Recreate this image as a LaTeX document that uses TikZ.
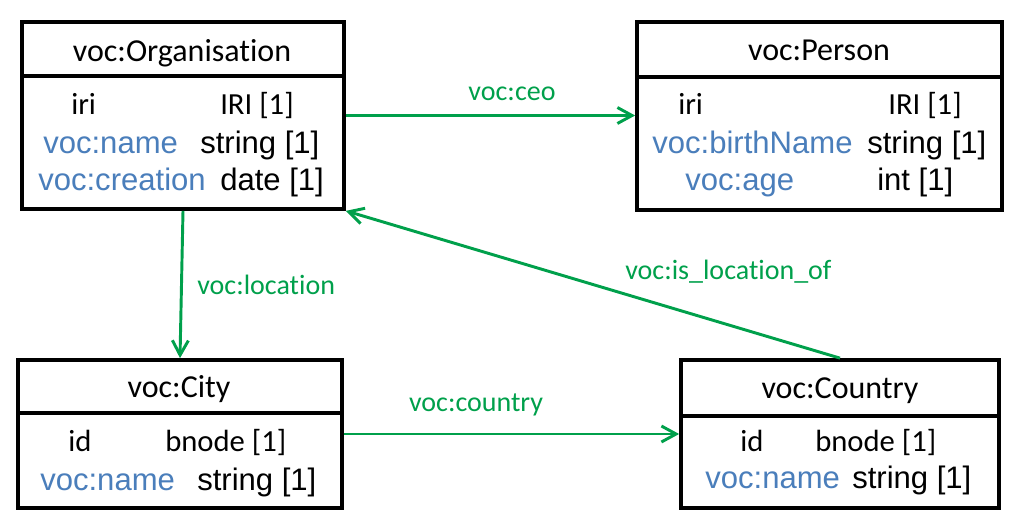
\documentclass[tikz,border=0pt]{standalone}
\usepackage{fontspec}
\newfontfamily\calfont[Ligatures=NoCommon]{Carlito}
\newfontfamily\arifont{Liberation Sans}
\usetikzlibrary{arrows.meta,calc}
\definecolor{edgegreen}{RGB}{0,160,75}
\definecolor{attblue}{RGB}{74,126,187}
\tikzset{
  box/.style={draw=black, line width=2.8pt, rectangle, inner sep=0pt, fill=white},
  divider/.style={draw=black, line width=2.4pt},
  ttl/.style={font=\calfont\fontsize{24}{28}\selectfont, anchor=base, inner sep=0pt},
  calt/.style={font=\calfont\fontsize{23}{27}\selectfont, anchor=base west, inner sep=0pt},
  prop/.style={font=\arifont\fontsize{23.3}{27}\selectfont, text=attblue, anchor=base west, inner sep=0pt},
  typ/.style={font=\arifont\fontsize{23.3}{27}\selectfont, anchor=base west, inner sep=0pt},
  elabel/.style={font=\calfont\fontsize{21}{25}\selectfont, text=edgegreen, inner sep=0pt},
  rel/.style={draw=edgegreen, line width=2.2pt, -{Straight Barb[length=11pt,width=12pt,line width=2.2pt]}},
}
\begin{document}
\begin{tikzpicture}[x=0.75pt,y=-0.75pt]
\useasboundingbox (0,0) rectangle (1021,529);
% boxes
\node[box, minimum width=322*0.75pt, minimum height=187*0.75pt] (org) at (183,115.5) {};
\node[box, minimum width=365*0.75pt, minimum height=188*0.75pt] (person) at (819.5,116) {};
\node[box, minimum width=324*0.75pt, minimum height=148*0.75pt] (city) at (180,434) {};
\node[box, minimum width=318*0.75pt, minimum height=148*0.75pt] (country) at (840,434) {};
% dividers
\draw[divider] (org.west |- 0,76) -- (org.east |- 0,76);
\draw[divider] (person.west |- 0,77) -- (person.east |- 0,77);
\draw[divider] (city.west |- 0,413) -- (city.east |- 0,413);
\draw[divider] (country.west |- 0,416) -- (country.east |- 0,416);
% Organisation
\node[ttl] (orgt) at (182,61) {voc:Organisation};
\node[calt] (orgiri) at (71,114) {iri};
\node[calt] (orgiriT) at (220,114) {IRI [1]};
\node[prop] (orgname) at (43,153) {voc:name};
\node[typ] (orgnameT) at (200,153) {string [1]};
\node[prop] (orgcre) at (38,190) {voc:creation};
\node[typ] (orgcreT) at (220,190) {date [1]};
% Person
\node[ttl] (pert) at (819,60) {voc:Person};
\node[calt] (periri) at (678,114) {iri};
\node[calt] (peririT) at (888,114) {IRI [1]};
\node[prop] (perbn) at (652,153) {voc:birthName};
\node[typ] (perbnT) at (867,153) {string [1]};
\node[prop] (perage) at (685,190) {voc:age};
\node[typ] (perageT) at (877,190) {int [1]};
% City
\node[ttl] (cityt) at (179,397) {voc:City};
\node[calt] (cityid) at (68,451) {id};
\node[calt] (cityidT) at (165,451) {bnode [1]};
\node[prop] (cityname) at (40,490) {voc:name};
\node[typ] (citynameT) at (197,490) {string [1]};
% Country
\node[ttl] (cout) at (840,398) {voc:Country};
\node[calt] (couid) at (740,451) {id};
\node[calt] (couidT) at (815,451) {bnode [1]};
\node[prop] (couname) at (705,488) {voc:name};
\node[typ] (counameT) at (852,488) {string [1]};
% connectors
\draw[rel] (org.east) -- (org.east -| person.west);
\draw[rel] (org.south) -- (city.north);
\draw[rel] (city.east) -- (country.west);
\draw[rel] (country.north) -- (org.south east);
% edge labels
\node[elabel] (lceo) at (512,94) {voc:ceo};
\node[elabel, anchor=west] (lloc) at (197,285) {voc:location};
\node[elabel] (lcountry) at (476,405) {voc:country};
\node[elabel, anchor=west] (lisloc) at (625,272) {voc:is\_location\_of};
\end{tikzpicture}
\end{document}
